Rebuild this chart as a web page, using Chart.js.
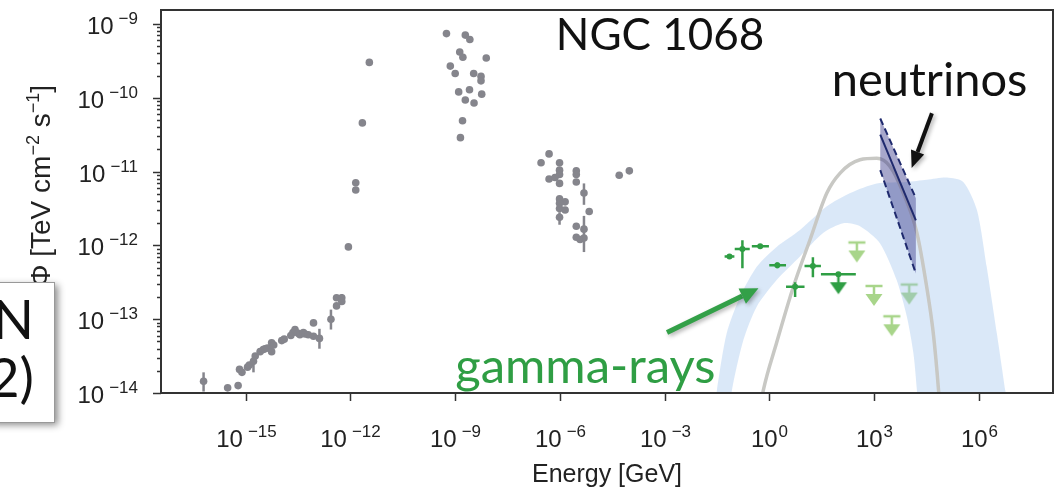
<!DOCTYPE html>
<html>
<head>
<meta charset="utf-8">
<script src="https://cdn.jsdelivr.net/npm/chart.js@4.4.1/dist/chart.umd.min.js"></script>
<style>
  html, body { margin: 0; padding: 0; background: #fff; }
  #wrap { width: 1063px; height: 490px; position: relative; }
</style>
</head>
<body>
<div id="wrap"><canvas id="sed"></canvas></div>
<script>
// values are log10: energy in GeV, flux (E^2 Phi) in TeV cm^-2 s^-1

// radio .. X-ray archival points (grey)
const grayE = [-16.21, -15.52, -15.22, -15.18, -15.11, -14.95, -14.90, -14.78, -14.73, -14.59, -14.50, -14.45, -14.38,
  -14.26, -14.26, -14.20, -13.97, -13.90, -13.71, -13.65, -13.59, -13.50, -13.45, -13.35, -13.30, -13.21, -13.06, -13.06,
  -12.89, -12.56, -12.40, -12.40, -12.25, -12.25,
  -12.06, -11.85, -11.85, -11.66, -11.46,
  -9.25, -8.71, -8.58, -8.87, -8.78, -8.11, -9.14, -9.00, -8.47, -8.26, -8.26, -8.90, -8.59, -8.24, -8.71, -8.46, -8.79, -8.85,
  -6.31, -6.54, -6.01, -6.01, -6.01, -6.31, -6.14, -6.01, -5.53, -5.53, -5.53, -5.31, -6.01, -5.85, -6.01, -6.01, -5.85,
  -6.01, -5.16, -5.53, -5.31, -5.53, -5.42, -5.31, -4.30, -4.01];
const grayF = [-13.84, -13.93, -13.90, -13.68, -13.72, -13.65, -13.62, -13.57, -13.50, -13.44, -13.41, -13.40, -13.39,
  -13.32, -13.44, -13.35, -13.29, -13.27, -13.22, -13.18, -13.14, -13.19, -13.21, -13.18, -13.20, -13.21, -13.05, -13.23,
  -13.26, -13.00, -12.71, -12.82, -12.71, -12.76,
  -12.02, -11.15, -11.25, -10.34, -9.52,
  -9.13, -9.15, -9.21, -9.38, -9.45, -9.46, -9.57, -9.67, -9.67, -9.71, -9.77, -9.92, -9.89, -9.95, -10.03, -10.07, -10.31, -10.54,
  -10.76, -10.88, -10.88, -10.98, -11.04, -11.10, -11.08, -11.16, -10.99, -11.04, -11.14, -11.29, -11.37, -11.41, -11.43, -11.50, -11.52,
  -11.62, -11.54, -11.74, -11.78, -11.89, -11.92, -11.90, -11.05, -10.99];
const grayErrE = [-16.21, -14.78, -12.89, -12.56, -12.25, -6.01, -5.31, -5.31];
const grayErrLo = [-13.98, -13.72, -13.40, -13.14, -12.80, -11.72, -11.45, -12.09];
const grayErrHi = [-13.72, -13.50, -13.13, -12.87, -12.66, -11.55, -11.16, -11.60];

// Fermi-LAT points (dark green) with energy bins and flux errors
const greenE = [-1.14, -0.77, -0.26, 0.23, 0.74, 1.25, 1.98];
const greenF = [-12.15, -12.05, -12.01, -12.27, -12.56, -12.28, -12.39];
const greenELo = [-1.28, -0.99, -0.50, 0.00, 0.48, 1.01, 1.48];
const greenEHi = [-1.00, -0.56, -0.01, 0.48, 1.01, 1.48, 2.48];
const greenFLo = [-12.15, -12.31, -12.03, -12.31, -12.70, -12.43, -12.39];
const greenFHi = [-12.15, -11.93, -11.99, -12.23, -12.50, -12.16, -12.39];
const ulDarkE = [1.98];
const ulDarkF = [-12.39];

// MAGIC upper limits (light green)
const ulE = [2.51, 3.00, 3.51, 4.01];
const ulF = [-11.96, -12.55, -12.96, -12.53];

// model band (upper and lower edge)
const bandUpperE = [-1.58, -1.50, -1.22, -0.83, -0.36, 0.21, 0.88, 1.65, 2.32, 3.08, 3.94, 4.51, 5.09, 5.56, 5.95, 6.23, 6.52, 6.76, 6.85];
const bandUpperF = [-14.3, -13.96, -13.19, -12.69, -12.29, -12.02, -11.79, -11.47, -11.29, -11.16, -11.14, -11.11, -11.08, -11.14, -11.52, -12.29, -13.19, -13.96, -14.3];
const bandLowerE = [-1.13, -1.07, -0.74, -0.36, 0.21, 0.88, 1.55, 2.12, 2.60, 3.17, 3.65, 3.94, 4.13, 4.23, 4.28];
const bandLowerF = [-14.3, -13.96, -13.28, -12.83, -12.47, -12.15, -11.83, -11.70, -11.74, -11.97, -12.47, -12.96, -13.46, -13.96, -14.3];

// grey model curve
const curveE = [-0.30, -0.17, 0.21, 0.69, 1.17, 1.65, 2.03, 2.60, 3.08, 3.46, 3.84, 4.23, 4.51, 4.70, 4.85, 4.90];
const curveF = [-14.3, -13.96, -13.32, -12.56, -11.92, -11.29, -11.02, -10.84, -10.82, -10.93, -11.29, -11.83, -12.56, -13.19, -13.96, -14.3];

// IceCube neutrino bowtie
const nuE = [3.18, 4.20];
const nuUpper = [-10.28, -11.36];
const nuCenter = [-10.50, -11.66];
const nuLower = [-10.98, -12.38];

// axes
const xTickExps = [-15, -12, -9, -6, -3, 0, 3, 6];
const yTickExps = [-14, -13, -12, -11, -10, -9];
const xRange = [-17.43, 8.13];
const yRange = [-14, -8.81];

const pow = v => Math.pow(10, v);
const pts = (xs, ys) => xs.map((x, i) => ({ x: pow(x), y: pow(ys[i]) }));

function expOf(v) {
  const e = Math.log10(v);
  const r = Math.round(e);
  return Math.abs(e - r) > 1e-6 ? null : r;
}

function ulMarker(color, cap) {
  const c = document.createElement('canvas');
  c.width = 20; c.height = 50;
  const g = c.getContext('2d');
  g.strokeStyle = color; g.fillStyle = color; g.lineWidth = 2.5;
  g.beginPath();
  if (cap) { g.moveTo(1.5, 25); g.lineTo(18.5, 25); }
  g.moveTo(10, 25); g.lineTo(10, 34);
  g.stroke();
  g.beginPath();
  g.moveTo(1.5, 33); g.lineTo(18.5, 33); g.lineTo(10, 45); g.closePath();
  g.fill();
  return c;
}

const GREEN = '#2f9e44';
const GRAY = '#85858c';
const MAIN = '24px "Liberation Sans"';
const SUPF = '17px "Liberation Sans"';

const bandPoly = pts(bandUpperE, bandUpperF).concat(pts(bandLowerE, bandLowerF).reverse());
const nuPoly = pts(nuE, nuUpper).concat(pts(nuE, nuLower).reverse());

function arrow(ctx, x0, y0, x1, y1, color, width, headLen, headW) {
  const a = Math.atan2(y1 - y0, x1 - x0);
  const bx = x1 - headLen * Math.cos(a), by = y1 - headLen * Math.sin(a);
  ctx.strokeStyle = color; ctx.fillStyle = color; ctx.lineWidth = width;
  ctx.beginPath(); ctx.moveTo(x0, y0); ctx.lineTo(bx, by); ctx.stroke();
  ctx.beginPath();
  ctx.moveTo(x1, y1);
  ctx.lineTo(bx + headW / 2 * Math.sin(a), by - headW / 2 * Math.cos(a));
  ctx.lineTo(bx - headW / 2 * Math.sin(a), by + headW / 2 * Math.cos(a));
  ctx.closePath(); ctx.fill();
}

// "10" with a raised exponent; anchor 'center' or 'right'
function powText(ctx, e, x, base, anchor) {
  const sup = (e < 0 ? '\u2212' : '') + Math.abs(e);
  ctx.font = MAIN; const w1 = ctx.measureText('10').width;
  ctx.font = SUPF; const w2 = ctx.measureText(sup).width;
  const gap = e < 0 ? 5 : 1;
  const total = w1 + gap + w2;
  const x0 = anchor === 'center' ? x - total / 2 : x - total;
  ctx.textAlign = 'left';
  ctx.font = MAIN; ctx.fillText('10', x0, base);
  ctx.font = SUPF; ctx.fillText(sup, x0 + w1 + gap, base - 10);
}

// error bars, drawn on top of datasets
const errorBars = {
  id: 'errorBars',
  afterDatasetsDraw(chart) {
    const { ctx, scales: { x, y } } = chart;
    const X = v => x.getPixelForValue(pow(v));
    const Y = v => y.getPixelForValue(pow(v));
    ctx.save();
    ctx.lineWidth = 2.5;
    ctx.strokeStyle = GRAY;
    grayErrE.forEach((e, i) => {
      ctx.beginPath(); ctx.moveTo(X(e), Y(grayErrLo[i])); ctx.lineTo(X(e), Y(grayErrHi[i])); ctx.stroke();
    });
    ctx.strokeStyle = GREEN;
    greenE.forEach((e, i) => {
      ctx.beginPath();
      ctx.moveTo(X(greenELo[i]), Y(greenF[i])); ctx.lineTo(X(greenEHi[i]), Y(greenF[i]));
      ctx.moveTo(X(e), Y(greenFLo[i])); ctx.lineTo(X(e), Y(greenFHi[i]));
      ctx.stroke();
    });
    ctx.restore();
  }
};

// tick marks, tick labels, frame and slide decorations
const decor = {
  id: 'decor',
  afterDraw(chart) {
    const { ctx, chartArea: a, scales: { x, y } } = chart;
    const X = v => x.getPixelForValue(pow(v));
    const Y = v => y.getPixelForValue(pow(v));
    ctx.save();
    ctx.strokeStyle = '#333';
    ctx.fillStyle = '#222';
    ctx.lineWidth = 1.5;
    ctx.textBaseline = 'alphabetic';
    x.ticks.forEach(t => {
      const px = Math.round(x.getPixelForValue(t.value)) + 0.5;
      ctx.beginPath(); ctx.moveTo(px, a.bottom); ctx.lineTo(px, a.bottom + 8); ctx.stroke();
      const e = expOf(t.value);
      if (e !== null) powText(ctx, e, px, a.bottom + 54, 'center');
    });
    y.ticks.forEach(t => {
      const py = Math.round(y.getPixelForValue(t.value)) + 0.5;
      const e = expOf(t.value);
      const len = e !== null ? 8 : 4;
      ctx.beginPath(); ctx.moveTo(a.left, py); ctx.lineTo(a.left - len, py); ctx.stroke();
      if (e !== null) powText(ctx, e, a.left - 23, py + 9, 'right');
    });
    ctx.lineWidth = 2;
    ctx.strokeRect(a.left, a.top, a.right - a.left, a.bottom - a.top);

    // annotations
    ctx.fillStyle = '#111';
    ctx.font = '44px Lato';
    ctx.textAlign = 'center';
    ctx.fillText('NGC 1068', X(-3.13), Y(-9.35));
    ctx.textAlign = 'left';
    ctx.font = '47px Lato';
    ctx.fillText('neutrinos', X(1.79), Y(-9.98));
    ctx.fillStyle = GREEN;
    ctx.font = '49px Lato';
    ctx.fillText('gamma-rays', X(-9.0), Y(-13.865));

    ctx.save();
    ctx.shadowColor = 'rgba(0,0,0,0.3)'; ctx.shadowBlur = 4; ctx.shadowOffsetX = 2; ctx.shadowOffsetY = 2;
    arrow(ctx, X(-2.93), Y(-13.18), X(-0.31), Y(-12.58), '#33a048', 5, 18, 17);
    arrow(ctx, X(4.66), Y(-10.21), X(4.08), Y(-10.95), '#111', 4, 17, 14);
    ctx.restore();

    // y axis title (rotated, with superscripts)
    const parts = [['E', 0], ['2', 1], ['Φ [TeV cm', 0], ['−2', 1], [' s', 0], ['−1', 1], [']', 0]];
    ctx.save();
    ctx.translate(50, 85);
    ctx.rotate(-Math.PI / 2);
    ctx.fillStyle = '#222';
    const fnt = s => (s ? '18px "Liberation Sans"' : '28px "Liberation Sans"');
    let total = 0;
    parts.forEach(([t, s]) => { ctx.font = fnt(s); total += ctx.measureText(t).width; });
    let cx = -total;
    parts.forEach(([t, s]) => {
      ctx.font = fnt(s);
      ctx.fillText(t, cx, s ? -11 : 0);
      cx += ctx.measureText(t).width;
    });
    ctx.restore();

    // slide box cut at left edge
    ctx.save();
    ctx.shadowColor = 'rgba(0,0,0,0.45)'; ctx.shadowBlur = 7; ctx.shadowOffsetX = 3; ctx.shadowOffsetY = 3;
    ctx.fillStyle = '#fff';
    ctx.fillRect(-10, 282, 65, 140);
    ctx.restore();
    ctx.strokeStyle = '#999'; ctx.lineWidth = 1;
    ctx.strokeRect(-10.5, 282.5, 65, 140);
    ctx.fillStyle = '#111';
    ctx.font = '54px Lato';
    ctx.textAlign = 'right';
    ctx.fillText('N', 34, 339);
    ctx.fillText('2)', 34, 397);
    ctx.restore();
  }
};

new Chart(document.getElementById('sed'), {
  type: 'scatter',
  data: {
    datasets: [
      { label: 'gamma-ray upper limits', data: pts(ulE, ulF), pointStyle: ulMarker('#a8d58a', true), order: 6 },
      { label: 'model band', data: bandPoly, showLine: true, fill: 'shape', backgroundColor: 'rgba(150,190,235,0.35)',
        borderWidth: 0, pointRadius: 0, tension: 0.25, order: 5 },
      { label: 'model curve', data: pts(curveE, curveF), showLine: true, borderColor: '#c8c8c4', borderWidth: 3.5,
        pointRadius: 0, cubicInterpolationMode: 'monotone', order: 4 },
      { label: 'neutrino band', data: nuPoly, showLine: true, fill: 'shape', backgroundColor: 'rgba(60,60,140,0.45)',
        borderWidth: 0, pointRadius: 0, order: 3 },
      { label: 'neutrino upper', data: pts(nuE, nuUpper), showLine: true, borderColor: '#1f2a6e', borderWidth: 2,
        borderDash: [7, 4], pointRadius: 0, order: 2 },
      { label: 'neutrino lower', data: pts(nuE, nuLower), showLine: true, borderColor: '#1f2a6e', borderWidth: 2,
        borderDash: [7, 4], pointRadius: 0, order: 2 },
      { label: 'neutrino fit', data: pts(nuE, nuCenter), showLine: true, borderColor: '#1f2a6e', borderWidth: 2,
        pointRadius: 0, order: 2 },
      { label: 'archival', data: pts(grayE, grayF), backgroundColor: GRAY, borderWidth: 0, pointRadius: 3.8, order: 1 },
      { label: 'Fermi-LAT', data: pts(greenE, greenF), backgroundColor: GREEN, borderWidth: 0, pointRadius: 3, order: 0 },
      { label: 'Fermi-LAT UL', data: pts(ulDarkE, ulDarkF), pointStyle: ulMarker(GREEN, false), order: 0 }
    ]
  },
  options: {
    responsive: true,
    maintainAspectRatio: false,
    animation: false,
    layout: { padding: { top: 10, right: 10, left: 0, bottom: 0 } },
    plugins: { legend: { display: false }, tooltip: { enabled: false } },
    scales: {
      x: {
        type: 'logarithmic',
        min: pow(xRange[0]),
        max: pow(xRange[1]),
        afterBuildTicks: s => { s.ticks = xTickExps.map(e => ({ value: pow(e), major: true })); },
        afterFit: s => { s.height = 97; },
        grid: { display: false },
        border: { display: false },
        ticks: { display: false },
        title: { display: true, text: 'Energy [GeV]', color: '#222', font: { family: 'Liberation Sans', size: 25 },
          padding: { top: 0, bottom: 0 } }
      },
      y: {
        type: 'logarithmic',
        min: pow(yRange[0]),
        max: pow(yRange[1]),
        afterBuildTicks: s => {
          const t = [];
          yTickExps.forEach(e => { for (let m = 1; m <= 9; m++) { const v = m * pow(e); if (v <= s.max) t.push({ value: v, major: m === 1 }); } });
          s.ticks = t;
        },
        afterFit: s => { s.width = 161; },
        grid: { display: false },
        border: { display: false },
        ticks: { display: false }
      }
    }
  },
  plugins: [errorBars, decor]
});
</script>
</body>
</html>
